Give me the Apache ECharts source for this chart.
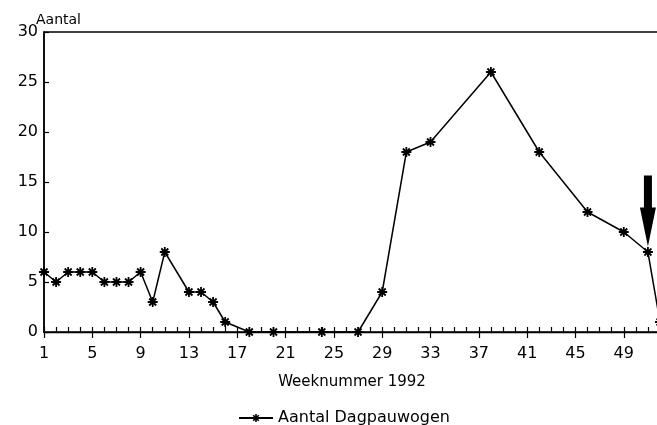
<!DOCTYPE html>
<html>
<head>
<meta charset="utf-8">
<script src="https://cdn.jsdelivr.net/npm/echarts@6/dist/echarts.min.js"></script>
<style>html,body{margin:0;padding:0;background:#fff}#c{width:657px;height:425px}</style>
</head>
<body>
<div id="c"></div>
<script>
// Week numbers and counts
var weeks  = [1, 2, 3, 4, 5, 6, 7, 8, 9, 10, 11, 13, 14, 15, 16, 18, 20, 24, 27, 29, 31, 33, 38, 42, 46, 49, 51, 52];
var counts = [6, 5, 6, 6, 6, 5, 5, 5, 6, 3, 8, 4, 4, 3, 1, 0, 0, 0, 0, 4, 18, 19, 26, 18, 12, 10, 8, 1];
var xTickLabels = [1, 5, 9, 13, 17, 21, 25, 29, 33, 37, 41, 45, 49];
var allWeeks = [];
for (var w = 1; w <= 52; w++) allWeeks.push(w);
var arrowWeek = 51;
var arrowValue = 8;
var seriesName = 'Aantal Dagpauwogen';

var FONT = 'DejaVu Sans';
var asterisk = 'path://M5,0L5,10M0,5L10,5M1.5,1.5L8.5,8.5M1.5,8.5L8.5,1.5';
var arrow = 'path://M4,0L12,0L12,32L16,32L8,71L0,32L4,32Z';

var data = weeks.map(function (wk, i) { return [wk, counts[i]]; });

var chart = echarts.init(document.getElementById('c'), null, {renderer: 'canvas'});
chart.setOption({
  animation: false,
  backgroundColor: '#fff',
  textStyle: {fontFamily: FONT, color: '#000'},
  title: {
    text: 'Aantal', left: 31, top: 8,
    textStyle: {fontFamily: FONT, fontSize: 14, fontWeight: 'normal', color: '#000'}
  },
  grid: {left: 44, top: 32, width: 616, height: 300, show: true, borderColor: '#000', borderWidth: 1.3,
         containLabel: false, outerBoundsMode: 'none'},
  legend: {
    left: 233, top: 405,
    itemWidth: 34, itemHeight: 10, itemGap: 8,
    itemStyle: {color: '#000', borderColor: '#000', borderWidth: 1.6},
    textStyle: {fontFamily: FONT, fontSize: 16, color: '#000'},
    data: [seriesName]
  },
  xAxis: [
    {
      type: 'value', min: 1, max: 52, position: 'bottom',
      axisLine: {show: true, lineStyle: {color: '#000', width: 1.4}},
      axisTick: {show: true, inside: true, length: 5, customValues: allWeeks, lineStyle: {color: '#000', width: 1.2}},
      axisLabel: {show: false},
      splitLine: {show: false}
    },
    {
      type: 'value', min: 1, max: 52, position: 'bottom',
      axisLine: {show: false},
      axisTick: {show: true, inside: false, length: 6, customValues: xTickLabels, lineStyle: {color: '#000', width: 1.2}},
      axisLabel: {show: true, customValues: xTickLabels, margin: 14, fontFamily: FONT, fontSize: 16, color: '#000'},
      splitLine: {show: false},
      name: 'Weeknummer 1992', nameLocation: 'middle', nameGap: 43,
      nameTextStyle: {fontFamily: FONT, fontSize: 15, color: '#000'}
    }
  ],
  yAxis: {
    type: 'value', min: 0, max: 30, interval: 5,
    axisLine: {show: true, lineStyle: {color: '#000', width: 1.6}},
    axisTick: {show: true, inside: true, length: 5, lineStyle: {color: '#000', width: 1.2}},
    axisLabel: {margin: 6, fontFamily: FONT, fontSize: 16, color: '#000'},
    splitLine: {show: false}
  },
  series: [{
    name: seriesName,
    type: 'line',
    xAxisIndex: 0,
    data: data,
    symbol: asterisk,
    symbolSize: 10,
    showAllSymbol: true,
    lineStyle: {color: '#000', width: 1.5},
    itemStyle: {color: '#000', borderColor: '#000', borderWidth: 1.8},
    markPoint: {
      silent: true,
      symbol: arrow,
      symbolSize: [16, 71],
      symbolOffset: [0, -41],
      itemStyle: {color: '#000', borderWidth: 0},
      label: {show: false},
      data: [{coord: [arrowWeek, arrowValue]}]
    }
  }]
});
</script>
</body>
</html>
